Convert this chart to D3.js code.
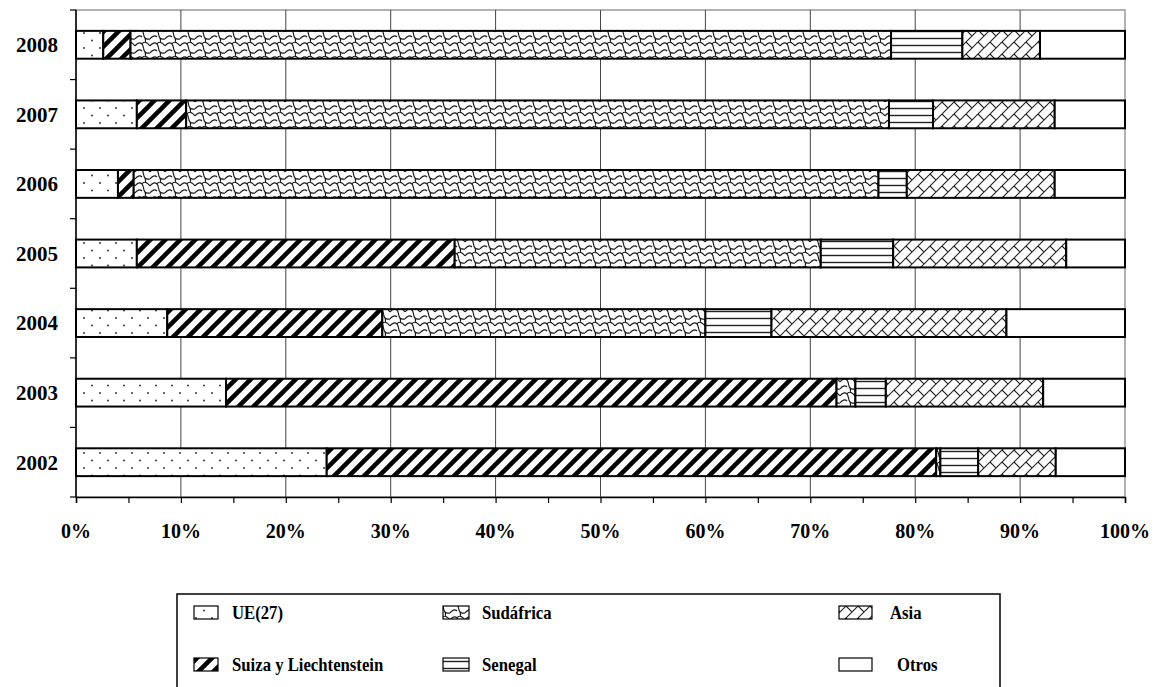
<!DOCTYPE html>
<html>
<head>
<meta charset="utf-8">
<style>
    body { margin: 0; background: #fff; }
    text { font-family: "Liberation Serif", "Times New Roman", serif; font-weight: bold; fill: #000; }
</style>
</head>
<body>
<svg id="chart" width="1155" height="687"></svg>

<script src="https://d3js.org/d3.v7.min.js"></script>
<script>
    // values, in % of each year
    var years = ["2002", "2003", "2004", "2005", "2006", "2007", "2008"]
    var ue        = [23.9, 14.3,  8.7,  5.8,  4.0,  5.8,  2.6]
    var suiza     = [58.1, 58.2, 20.5, 30.3,  1.5,  4.7,  2.6]
    var sudafrica = [ 0.4,  1.8, 30.8, 34.9, 71.0, 67.0, 72.5]
    var senegal   = [ 3.6,  2.9,  6.3,  6.9,  2.7,  4.2,  6.8]
    var asia      = [ 7.4, 15.0, 22.4, 16.5, 14.1, 11.6,  7.4]
    var otros     = [ 6.6,  7.8, 11.3,  5.6,  6.7,  6.7,  8.1]
    var xTicks = [0, 10, 20, 30, 40, 50, 60, 70, 80, 90, 100]

    var series = [
        {key: "ue", label: "UE(27)", values: ue},
        {key: "suiza", label: "Suiza y Liechtenstein", values: suiza},
        {key: "sudafrica", label: "Sudáfrica", values: sudafrica},
        {key: "senegal", label: "Senegal", values: senegal},
        {key: "asia", label: "Asia", values: asia},
        {key: "otros", label: "Otros", values: otros}
    ]

    var rows = years.map(function(y, i) {
        var r = {year: y}
        series.forEach(function(s) { r[s.key] = s.values[i] })
        return r
    })

    var svg = d3.select("#chart")
    var plotLeft = 76, plotRight = 1125, plotTop = 10, plotBottom = 497

    var x = d3.scaleLinear().domain([0, 100]).range([plotLeft, plotRight])
    var y = d3.scaleBand().domain(years).range([plotBottom, plotTop]).paddingInner(0.6).paddingOuter(0.3)

    // patterns
    var defs = svg.append("defs")

    var p = defs.append("pattern").attr("id", "pat-ue").attr("patternUnits", "userSpaceOnUse")
        .attr("width", 16).attr("height", 15)
    p.append("rect").attr("width", 16).attr("height", 15).attr("fill", "#fff")
    p.append("circle").attr("cx", 4).attr("cy", 3).attr("r", 0.9).attr("fill", "#222")
    p.append("circle").attr("cx", 12).attr("cy", 10.5).attr("r", 0.9).attr("fill", "#222")

    p = defs.append("pattern").attr("id", "pat-suiza").attr("patternUnits", "userSpaceOnUse")
        .attr("width", 15).attr("height", 15)
    p.append("rect").attr("width", 15).attr("height", 15).attr("fill", "#fff")
    p.append("path").attr("d", "M-4,19 L19,-4 M-19,19 L4,-4 M11,19 L34,-4")
        .attr("stroke", "#000").attr("stroke-width", 4.5)

    p = defs.append("pattern").attr("id", "pat-sudafrica").attr("patternUnits", "userSpaceOnUse")
        .attr("width", 15).attr("height", 14)
    p.append("rect").attr("width", 15).attr("height", 14).attr("fill", "#fff")
    p.append("path")
        .attr("d", "M0,4 C2,1 5,0 7,2 C9,4 8,8 10,10 C12,12 14,11 15,11" +
            " M7,2 C9,-1 12,0 15,4 M0,11 C-1,11 -1,11 0,11 M0,11 C2,8 5,7 7,9 M10,10 C11,13 10,14 10,14")
        .attr("fill", "none").attr("stroke", "#1a1a1a").attr("stroke-width", 1.2)

    p = defs.append("pattern").attr("id", "pat-senegal").attr("patternUnits", "userSpaceOnUse")
        .attr("width", 10).attr("height", 7)
    p.append("rect").attr("width", 10).attr("height", 7).attr("fill", "#fff")
    p.append("line").attr("x1", 0).attr("x2", 10).attr("y1", 3.5).attr("y2", 3.5)
        .attr("stroke", "#222").attr("stroke-width", 1.4)

    p = defs.append("pattern").attr("id", "pat-asia").attr("patternUnits", "userSpaceOnUse")
        .attr("width", 12).attr("height", 12)
    p.append("rect").attr("width", 12).attr("height", 12).attr("fill", "#fff")
    p.append("path").attr("d", "M0,12 L12,0 M-1,1 L1,-1 M11,13 L13,11 M6,6 L12,12")
        .attr("stroke", "#222").attr("stroke-width", 1.1).attr("fill", "none")

    var fills = {ue: "url(#pat-ue)", suiza: "url(#pat-suiza)", sudafrica: "url(#pat-sudafrica)",
        senegal: "url(#pat-senegal)", asia: "url(#pat-asia)", otros: "#fff"}

    // plot frame and grid
    svg.append("rect").attr("x", plotLeft).attr("y", plotTop)
        .attr("width", plotRight - plotLeft).attr("height", plotBottom - plotTop)
        .attr("fill", "none").attr("stroke", "#999").attr("stroke-width", 1.5)

    svg.append("g").selectAll("line")
        .data(xTicks.slice(1, -1))
        .enter().append("line")
            .attr("x1", function(d) { return x(d) }).attr("x2", function(d) { return x(d) })
            .attr("y1", plotTop).attr("y2", plotBottom)
            .attr("stroke", "#444").attr("stroke-width", 1)

    // stacked bars
    var stack = d3.stack().keys(series.map(function(s) { return s.key }))(rows)

    svg.append("g").selectAll("g")
        .data(stack)
        .enter().append("g")
            .attr("fill", function(d) { return fills[d.key] })
        .selectAll("rect")
        .data(function(d) { return d })
        .enter().append("rect")
            .attr("x", function(d) { return x(d[0]) })
            .attr("y", function(d) { return y(d.data.year) })
            .attr("width", function(d) { return x(d[1]) - x(d[0]) })
            .attr("height", y.bandwidth())
            .attr("stroke", "#000").attr("stroke-width", 2)

    // y axis
    var yTickPos = d3.range(years.length + 1).map(function(i) {
        return plotBottom - i * (plotBottom - plotTop) / years.length
    })
    svg.append("line").attr("x1", plotLeft).attr("x2", plotLeft).attr("y1", plotTop).attr("y2", plotBottom)
        .attr("stroke", "#000").attr("stroke-width", 1.5)
    svg.append("g").selectAll("line")
        .data(yTickPos)
        .enter().append("line")
            .attr("x1", plotLeft - 6).attr("x2", plotLeft)
            .attr("y1", function(d) { return d }).attr("y2", function(d) { return d })
            .attr("stroke", "#000").attr("stroke-width", 1.2)
    svg.append("g").selectAll("text")
        .data(years)
        .enter().append("text")
            .attr("x", 58)
            .attr("y", function(d) { return y(d) + y.bandwidth() / 2 })
            .attr("dy", "0.35em")
            .attr("text-anchor", "end")
            .style("font-size", "21px")
            .text(function(d) { return d })

    // x axis
    var xAxis = d3.axisBottom(x).tickValues(d3.range(0, 101, 5)).tickSize(6).tickFormat("")
    var gx = svg.append("g").attr("transform", "translate(0," + plotBottom + ")").call(xAxis)
    gx.select(".domain").attr("stroke", "#000").attr("stroke-width", 1.5)
    gx.selectAll(".tick line").attr("stroke", "#000").attr("stroke-width", 1.2)

    svg.append("g").selectAll("text")
        .data(xTicks)
        .enter().append("text")
            .attr("x", function(d) { return x(d) })
            .attr("y", 538)
            .attr("text-anchor", "middle")
            .style("font-size", "20px")
            .text(function(d) { return d + "%" })

    // legend
    svg.append("rect").attr("x", 177).attr("y", 594).attr("width", 823).attr("height", 120)
        .attr("fill", "none").attr("stroke", "#000").attr("stroke-width", 1.5)

    var legendPos = [
        {sx: 194, tx: 232, y: 606}, {sx: 194, tx: 232, y: 658},
        {sx: 443, tx: 482, y: 606}, {sx: 443, tx: 482, y: 658},
        {sx: 839, tx: 890, y: 606}, {sx: 839, tx: 897, y: 658}
    ]
    var legend = svg.append("g").selectAll("g")
        .data(series)
        .enter().append("g")
    legend.append("rect")
        .attr("x", function(d, i) { return legendPos[i].sx })
        .attr("y", function(d, i) { return legendPos[i].y })
        .attr("width", function(d, i) { return i < 2 ? 24 : (i < 4 ? 26 : 33) })
        .attr("height", 13)
        .attr("fill", function(d) { return fills[d.key] })
        .attr("stroke", "#000").attr("stroke-width", 1.2)
    legend.append("text")
        .attr("transform", function(d, i) {
            return "translate(" + legendPos[i].tx + "," + (legendPos[i].y + 13) + ") scale(0.88,1)"
        })
        .style("font-size", "19px")
        .text(function(d) { return d.label })
</script>
</body>
</html>
